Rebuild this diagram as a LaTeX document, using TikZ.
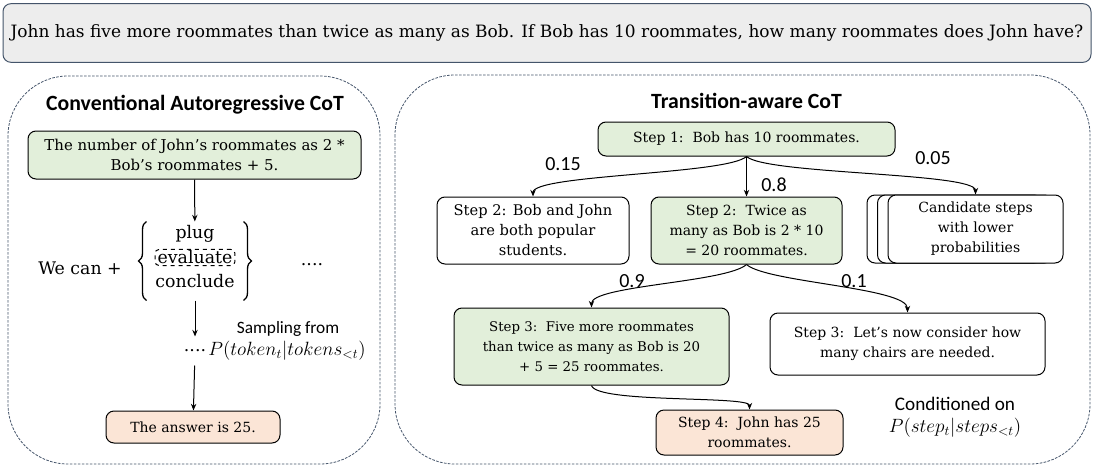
\documentclass[tikz,border=0pt]{standalone}
\usepackage{fontspec}
\setmainfont{DejaVu Serif}
\newfontfamily\calibri{Carlito}
\usetikzlibrary{arrows.meta,decorations.pathreplacing}

\definecolor{stepgreen}{HTML}{E2EFDA}
\definecolor{steppink}{HTML}{FBE5D6}
\definecolor{qgray}{HTML}{EDEDED}
\definecolor{slate}{HTML}{44546A}

\tikzset{every picture/.style={line width=0.75pt}}
\tikzset{
  stepbox/.style={draw, rounded corners=6pt, align=center, inner sep=2pt, font=\fontsize{10.5}{15}\selectfont},
  goodstep/.style={stepbox, fill=stepgreen},
  answerstep/.style={stepbox, fill=steppink},
  panel/.style={draw=slate, dash pattern=on 2pt off 1pt, line width=0.6pt},
  paneltitle/.style={font=\calibri\bfseries\fontsize{16.3}{19}\selectfont},
  prob/.style={font=\calibri\fontsize{15}{18}\selectfont},
  note/.style={font=\calibri\fontsize{13}{16}\selectfont, align=center},
  serif/.style={font=\fontsize{13}{16}\selectfont},
  curly/.style={decorate, decoration={brace, amplitude=6pt}, line width=1pt},
  link/.style={-{Stealth[length=5pt,width=4pt]}},
}

\begin{document}
\begin{tikzpicture}[x=0.75pt,y=0.75pt,yscale=-1,xscale=1]
	\useasboundingbox (0,0) rectangle (1094,467);

	%Question
	\node [draw=slate, fill=qgray, rounded corners=6pt, minimum width=816pt, minimum height=44pt, font=\fontsize{12.75}{15}\selectfont] (question) at (547,33) {John has five more roommates than twice as many as Bob. If Bob has 10 roommates, how many roommates does John have?};

	%Panels
	\draw [panel, rounded corners=45pt] (8,76) rectangle (380,464);
	\draw [panel, rounded corners=45pt] (395,75) rectangle (1090,464);

	% Text Node
	\node [paneltitle] (convtitle) at (195,105) {Conventional Autoregressive CoT};
	% Text Node
	\node [paneltitle] (transtitle) at (746.5,101) {Transition-aware CoT};

	%Conventional CoT
	\node [goodstep, minimum width=249.75pt, minimum height=36pt, font=\fontsize{11.2}{15.5}\selectfont] (plan) at (194.5,155) {The number of John's roommates as 2 *\\Bob's roommates + 5.};
	\node [minimum width=72pt, minimum height=58.5pt, inner sep=0pt] (opts) at (195,261) {};
	\node [serif] (plug) at (195,234) {plug};
	\node [serif, draw, dashed, rounded corners=3pt, inner xsep=2pt, inner ysep=1pt] (evaluate) at (195,257.5) {evaluate};
	\node [serif] (conclude) at (195,281) {conclude};
	\draw [curly] (opts.south west) -- (opts.north west);
	\draw [curly] (opts.north east) -- (opts.south east);
	\node [serif] (wecan) at (80,268) {We can +};
	\node [serif] (moredots) at (312,265) {....};
	\node [serif, minimum height=21pt] (tokdots) at (195,351) {....};
	\node [note] (sampling) at (288,329) {Sampling from};
	\node [note, font=\fontsize{14.5}{16}\selectfont] (tokprob) at (287,351) {$P(token_t|tokens_{<t})$};
	\node [answerstep, minimum width=130.5pt, minimum height=24pt] (answer) at (193,427) {The answer is 25.};

	\draw [link] (plan) -- (opts);
	\draw [link] (opts) -- (tokdots);
	\draw [link] (tokdots) -- (answer);

	%Transition-aware CoT
	\node [goodstep, minimum width=222.75pt, minimum height=25.5pt] (step1) at (746.5,139) {Step 1:\ \ Bob has 10 roommates.};
	\node [stepbox, minimum width=144pt, minimum height=50.25pt, font=\fontsize{11}{15}\selectfont] (step2a) at (533,230.5) {Step 2: Bob and John\\are both popular\\students.};
	\node [goodstep, minimum width=143.25pt, minimum height=50.25pt] (step2b) at (746.5,230.5) {Step 2:\ \ Twice as\\many as Bob is 2 * 10\\= 20 roommates.};
	\node [stepbox, minimum width=131.25pt, minimum height=51pt] (cand3) at (954.5,229) {};
	\node [stepbox, fill=white, minimum width=131.25pt, minimum height=51pt] (cand2) at (965,229) {};
	\node [stepbox, fill=white, minimum width=131.25pt, minimum height=51pt] (cand) at (975.5,229) {Candidate steps\\with lower\\probabilities};
	\node [goodstep, minimum width=206.25pt, minimum height=57.75pt, font=\fontsize{10}{15}\selectfont] (step3a) at (591.5,346.5) {Step 3:\ \ Five more roommates\\than twice as many as Bob is 20\\+ 5 = 25 roommates.};
	\node [stepbox, minimum width=206.25pt, minimum height=46.5pt] (step3b) at (907.5,344) {Step 3:\ \ Let’s now consider how\\many chairs are needed.};
	\node [answerstep, minimum width=140.25pt, minimum height=33.75pt] (step4) at (749.5,432.5) {Step 4:\ \ John has 25\\roommates.};

	\draw [link] (step1.south) .. controls +(-20,18) and +(0,-22) .. (step2a.north);
	\draw [link] (step1.south) -- (step2b.north);
	\draw [link] (step1.south) .. controls +(20,18) and +(0,-22) .. (cand.north);
	\draw [link] (step2b.south) .. controls +(-20,18) and +(0,-22) .. (step3a.north);
	\draw [link] (step2b.south) .. controls +(20,18) and +(0,-25) .. (step3b.north);
	\draw [link] (step3a.south) .. controls +(5,18) and +(0,-14) .. (step4.north);

	% Text Node
	\node [prob] (p015) at (563,164) {0.15};
	\node [prob] (p08) at (774,185) {0.8};
	\node [prob] (p005) at (933,158) {0.05};
	\node [prob] (p09) at (632,281) {0.9};
	\node [prob] (p01) at (854,281) {0.1};
	% Text Node
	\node [note, font=\calibri\fontsize{14.4}{16}\selectfont] (conditioned) at (955,404) {Conditioned on};
	\node [note, font=\fontsize{14.5}{16}\selectfont] (stepprob) at (955,428) {$P(step_t|steps_{<t})$};

\end{tikzpicture}
\end{document}
